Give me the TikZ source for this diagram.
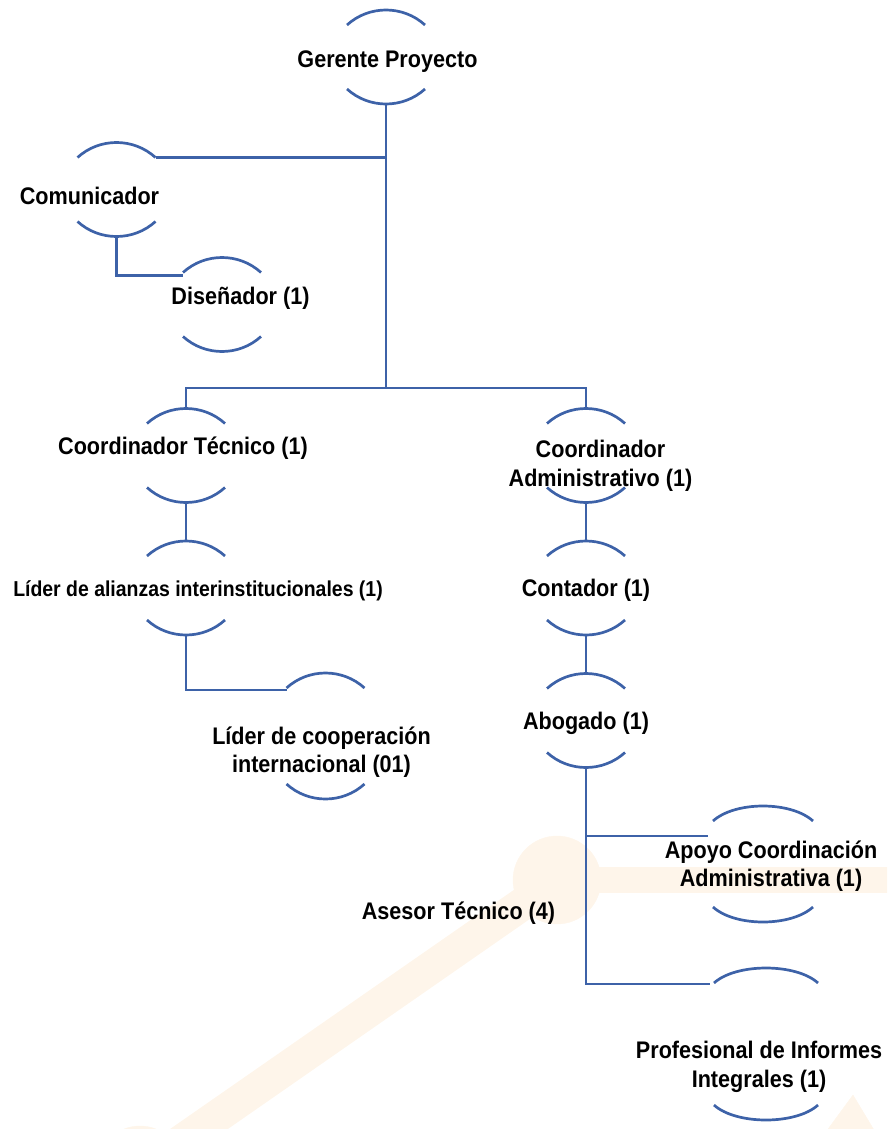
\documentclass[tikz,border=0pt]{standalone}
\usepackage{fontspec}
\setmainfont{Liberation Sans}[FakeStretch=0.9]
\usetikzlibrary{positioning}

\definecolor{azul}{RGB}{61,98,168}
\definecolor{naranjaclaro}{RGB}{254,245,234}

\tikzset{
    puesto/.style={minimum width=78pt, minimum height=94pt, inner sep=0pt, outer sep=0pt},
    texto/.style={font=\bfseries\fontsize{24}{28.5}\selectfont, align=center, inner sep=0pt, text=black},
    linea/.style={draw=azul, line width=2.7pt},
    marca/.style={fill=naranjaclaro, draw=naranjaclaro}
}

\begin{document}
\begin{tikzpicture}[auto, node distance=38.5pt, x=1pt, y=1pt]

        \useasboundingbox (0,0) rectangle (887,-1129);

        % fondo
        \begin{scope}
            \clip (0,0) rectangle (887,-1129);
            \fill[marca] (557,-880) circle[radius=44];
            \draw[marca, line width=26pt] (557,-880) -- (900,-880);
            \draw[marca, line width=33pt] (557,-880) -- (140,-1170);
            \fill[marca] (140,-1170) circle[radius=44];
            \fill[marca] (853,-1095) -- (820,-1140) -- (880,-1140) -- cycle;
        \end{scope}

        \node[puesto] (gp) at (386,-57) [label={[texto, shift={(1.5,-4.5)}]center:Gerente Proyecto}] {};
        \node[puesto] (com) at (116.5,-189.5) [label={[texto, shift={(-27,-6)}]center:Comunicador}] {};
        \node[puesto] (dis) at (222,-304.5) [label={[texto, shift={(18.5,6.5)}]center:Diseñador (1)}] {};

        \node[puesto] (ctec) at (186,-455.5) [label={[texto, shift={(-3,7.5)}]center:Coordinador Técnico (1)}] {};
        \node[puesto] (lali) [below = of ctec, label={[texto, font=\bfseries\fontsize{21.6}{26}\selectfont, shift={(12,-2.5)}]center:Líder de alianzas interinstitucionales (1)}] {};
        \node[puesto, minimum height=126pt] (lcoop) at (325.5,-736) [label={[texto, shift={(-4,-16)}]center:Líder de cooperación\\internacional (01)}] {};

        \node[puesto] (cadm) at (586,-455.5) [label={[texto, shift={(14.5,-10.5)}]center:Coordinador\\Administrativo (1)}] {};
        \node[puesto] (cont) [below = of cadm, label={[texto, shift={(0,-2)}]center:Contador (1)}] {};
        \node[puesto] (abo) [below = of cont, label={[texto, shift={(0,-3)}]center:Abogado (1)}] {};

        \node[texto] (ases) at (458.5,-913) {Asesor Técnico (4)};
        \node[puesto, minimum width=100pt, minimum height=116pt] (apoyo) at (763,-864) [label={[texto, shift={(8,-2)}]center:Apoyo Coordinación\\Administrativa (1)}] {};
        \node[puesto, minimum width=104pt, minimum height=152pt] (prof) at (766,-1044) [label={[texto, shift={(-7,-23)}]center:Profesional de Informes\\Integrales (1)}] {};

        % arcos de cada puesto
        \foreach \p in {gp,com,dis,ctec,lali,lcoop,cadm,cont,abo,apoyo,prof}
            \draw[linea] ([yshift=-15pt]\p.north west) .. controls +(22,20) and +(-22,20) .. ([yshift=-15pt]\p.north east)
                         ([yshift=15pt]\p.south west) .. controls +(22,-20) and +(-22,-20) .. ([yshift=15pt]\p.south east);

        \coordinate (bus) at ([yshift=-284pt]gp.south);

        \draw[linea] (gp.south) |- ([yshift=-15pt]com.north east);
        \draw[linea] (gp.south) -- (bus) -| (ctec.north);
        \draw[linea] (bus) -| (cadm.north);
        \draw[linea] (com.south) |- ([yshift=-18pt]dis.north west);
        \draw[linea] (ctec.south) -- (lali.north);
        \draw[linea] (lali.south) |- ([yshift=-17pt]lcoop.north west);
        \draw[linea] (cadm.south) -- (cont.north);
        \draw[linea] (cont.south) -- (abo.north);
        \draw[linea] (abo.south) |- ([xshift=-5pt, yshift=-30pt]apoyo.north west);
        \draw[linea] (abo.south) |- ([xshift=-4pt, yshift=-16pt]prof.north west);

    \end{tikzpicture}
\end{document}
